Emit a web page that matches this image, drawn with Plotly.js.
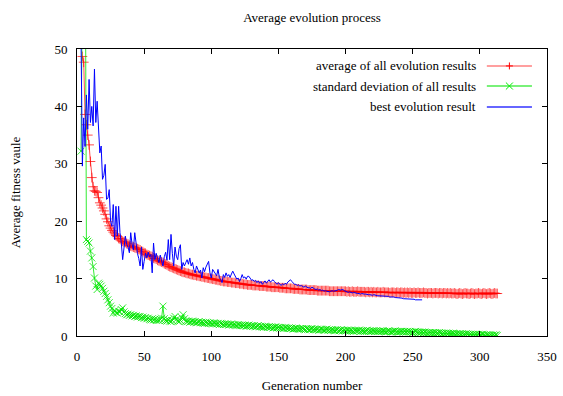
<!DOCTYPE html>
<html>
<head>
<meta charset="utf-8">
<script src="https://cdn.plot.ly/plotly-3.0.1.min.js"></script>
<style>html,body{margin:0;padding:0;background:#fff;}#chart{width:563px;height:396px;}</style>
</head>
<body>
<div id="chart"></div>
<script>
// ---- data ----
const chartTitle = 'Average evolution process';
const xTitle = 'Generation number';
const yTitle = 'Average fitness vaule';
const seriesNames = ['average of all evolution results', 'standard deviation of all results', 'best evolution result'];

const avgStartGen = 4;
const avgValues = [
  48.7, 47.7, 38.6, 36.8, 35.0, 33.3, 30.4, 27.6, 26.0, 25.3,
  25.2, 25.0, 24.1, 23.2, 22.8, 22.3, 21.8, 21.2, 20.4, 19.9,
  19.2, 18.8, 18.4, 18.1, 17.8, 17.5, 17.3, 17.0, 16.9, 16.7,
  16.5, 16.4, 16.3, 16.1, 16.0, 15.8, 15.7, 15.6, 15.5, 15.4,
  15.3, 15.2, 15.1, 15.0, 14.8, 14.7, 14.5, 14.4, 14.2, 14.1,
  14.0, 13.9, 13.8, 13.6, 13.5, 13.4, 13.2, 13.1, 13.0, 12.9,
  12.8, 12.6, 12.5, 12.4, 12.2, 12.1, 12.0, 11.9, 11.8, 11.7,
  11.6, 11.5, 11.4, 11.3, 11.2, 11.1, 11.1, 11.0, 10.9, 10.9,
  10.8, 10.7, 10.7, 10.6, 10.6, 10.5, 10.5, 10.4, 10.4, 10.3,
  10.3, 10.2, 10.2, 10.1, 10.1, 10.0, 10.0, 9.9, 9.9, 9.8,
  9.8, 9.7, 9.7, 9.6, 9.6, 9.5, 9.5, 9.5, 9.4, 9.4,
  9.4, 9.3, 9.3, 9.3, 9.2, 9.2, 9.2, 9.1, 9.1, 9.1,
  9.0, 9.0, 9.0, 8.9, 8.9, 8.9, 8.9, 8.8, 8.8, 8.8,
  8.8, 8.8, 8.7, 8.7, 8.7, 8.7, 8.7, 8.6, 8.6, 8.6,
  8.6, 8.5, 8.5, 8.5, 8.5, 8.5, 8.5, 8.4, 8.4, 8.4,
  8.4, 8.3, 8.3, 8.3, 8.3, 8.3, 8.3, 8.2, 8.2, 8.2,
  8.2, 8.2, 8.1, 8.1, 8.1, 8.1, 8.1, 8.1, 8.0, 8.0,
  8.0, 8.0, 8.0, 8.0, 8.0, 7.9, 7.9, 7.9, 7.9, 7.9,
  7.9, 7.9, 7.9, 7.9, 7.8, 7.8, 7.8, 7.8, 7.8, 7.8,
  7.8, 7.8, 7.8, 7.8, 7.8, 7.8, 7.8, 7.7, 7.8, 7.7,
  7.7, 7.8, 7.7, 7.7, 7.7, 7.8, 7.7, 7.7, 7.7, 7.7,
  7.7, 7.6, 7.7, 7.7, 7.6, 7.7, 7.6, 7.7, 7.6, 7.6,
  7.7, 7.6, 7.6, 7.6, 7.7, 7.6, 7.6, 7.6, 7.6, 7.5,
  7.6, 7.6, 7.6, 7.5, 7.6, 7.6, 7.5, 7.6, 7.6, 7.5,
  7.6, 7.5, 7.6, 7.5, 7.6, 7.5, 7.5, 7.6, 7.5, 7.5,
  7.6, 7.5, 7.5, 7.5, 7.6, 7.5, 7.5, 7.4, 7.5, 7.5,
  7.5, 7.4, 7.5, 7.5, 7.5, 7.4, 7.5, 7.5, 7.4, 7.5,
  7.5, 7.4, 7.5, 7.4, 7.5, 7.4, 7.4, 7.5, 7.4, 7.3,
  7.4, 7.5, 7.4, 7.3, 7.4, 7.5, 7.4, 7.4, 7.3, 7.4,
  7.5, 7.4, 7.3, 7.4, 7.4, 7.5, 7.4, 7.3, 7.4, 7.5,
  7.4, 7.3, 7.4, 7.5, 7.4, 7.3, 7.4, 7.5, 7.4, 7.4
];

const stdStartGen = 3;
const stdValues = [
  32.2, 85, 90, 80, 16.8, 16.5, 16.2, 14.8, 13.6, 12.1,
  10.1, 8.7, 8.1, 9.2, 9.0, 8.7, 8.3, 7.8, 7.4, 6.9,
  6.3, 5.8, 5.2, 4.8, 4.0, 4.4, 4.1, 4.0, 4.3, 4.2,
  4.6, 4.9, 4.2, 3.9, 3.7, 3.8, 3.6, 3.7, 3.5, 3.6,
  3.4, 3.5, 3.3, 3.4, 3.4, 3.2, 3.3, 3.1, 3.2, 3.0,
  3.1, 2.9, 2.8, 3.0, 2.8, 2.9, 2.7, 2.8, 2.7, 2.9,
  3.1, 5.2, 3.0, 2.7, 2.6, 2.8, 2.6, 2.5, 2.7, 3.1,
  3.4, 2.9, 2.6, 2.5, 2.7, 3.2, 3.7, 3.0, 2.6, 2.5,
  2.6, 2.4, 2.5, 2.6, 2.4, 2.5, 2.3, 2.4, 2.5, 2.3,
  2.4, 2.3, 2.2, 2.4, 2.3, 2.2, 2.3, 2.2, 2.1, 2.3,
  2.2, 2.1, 2.2, 2.0, 2.2, 2.1, 2.0, 2.1, 2.0, 2.1,
  1.9, 2.0, 2.1, 1.9, 2.0, 1.9, 1.8, 2.0, 1.9, 1.8,
  1.9, 1.8, 1.9, 1.7, 1.8, 1.9, 1.7, 1.8, 1.7, 1.8,
  1.6, 1.7, 1.8, 1.6, 1.7, 1.6, 1.5, 1.7, 1.6, 1.5,
  1.6, 1.5, 1.6, 1.4, 1.5, 1.6, 1.4, 1.5, 1.4, 1.5,
  1.4, 1.3, 1.5, 1.4, 1.3, 1.4, 1.3, 1.4, 1.2, 1.3,
  1.4, 1.3, 1.2, 1.3, 1.2, 1.3, 1.2, 1.1, 1.3, 1.2,
  1.1, 1.2, 1.3, 1.1, 1.2, 1.1, 1.2, 1.0, 1.1, 1.2,
  1.1, 1.0, 1.1, 1.2, 1.0, 1.1, 1.0, 1.1, 1.0, 0.9,
  1.0, 1.1, 0.9, 1.0, 1.1, 0.9, 1.0, 0.9, 1.0, 1.0,
  0.9, 1.0, 0.9, 0.8, 1.0, 0.9, 0.9, 1.0, 0.8, 0.9,
  0.9, 0.8, 0.9, 1.0, 0.8, 0.9, 0.8, 0.9, 0.9, 0.8,
  0.9, 0.8, 0.8, 0.9, 0.8, 0.9, 0.8, 0.7, 0.8, 0.9,
  0.8, 0.7, 0.8, 0.8, 0.9, 0.7, 0.8, 0.7, 0.8, 0.8,
  0.7, 0.8, 0.7, 0.8, 0.7, 0.8, 0.7, 0.6, 0.7, 0.8,
  0.7, 0.6, 0.7, 0.6, 0.7, 0.6, 0.7, 0.6, 0.5, 0.6,
  0.6, 0.5, 0.6, 0.5, 0.6, 0.5, 0.5, 0.6, 0.5, 0.4,
  0.5, 0.4, 0.5, 0.4, 0.5, 0.4, 0.4, 0.5, 0.4, 0.3,
  0.4, 0.3, 0.4, 0.3, 0.4, 0.3, 0.3, 0.4, 0.3, 0.2,
  0.3, 0.2, 0.3, 0.2, 0.3, 0.2, 0.3, 0.2, 0.2, 0.3,
  0.2, 0.1, 0.2, 0.2, 0.1, 0.2, 0.1, 0.2, 0.1, 0.2, 0.1
];

const bestStartGen = 3;
const bestValues = [
  52, 29.6, 38, 33, 42, 36, 44.7, 37.2, 40, 36.6,
  46.5, 37.2, 40.9, 36, 31.9, 33.1, 27.3, 28, 29.9, 23.8,
  24, 25.5, 20, 19.1, 22.9, 16.8, 22.6, 17.4, 22.6, 18,
  16.2, 13.3, 15, 17.4, 16, 15.5, 14.5, 18, 16, 15,
  18, 16, 14.4, 13.5, 12.2, 15.5, 11.6, 13, 14.4, 13.6,
  14.6, 13.8, 14.2, 11, 16.2, 13.3, 14.4, 13.5, 12.8, 14.1,
  13, 12.2, 13.8, 14.6, 13.2, 16.8, 13.3, 17.7, 14.4, 12.2,
  15.5, 13.9, 13.3, 15.2, 15.9, 11.6, 12.8, 12.2, 12.8, 13.3,
  12.5, 13.6, 12.2, 12.8, 11.6, 11, 12.2, 11.5, 11, 11.5,
  10.1, 11.9, 11.2, 12, 12.5, 13, 11, 10.1, 11.6, 11.3,
  11, 10.5, 11.6, 10.2, 9.8, 9.3, 10.7, 10.2, 11, 10.4,
  10.7, 10.2, 10.8, 11.3, 10.8, 10.4, 9.9, 10.1, 9.5, 10,
  10.7, 10.1, 10.3, 9.9, 10.4, 10.4, 10, 9.7, 9.8, 9.5,
  9.7, 9.3, 9.6, 9.2, 9.5, 9, 9.3, 9.6, 9.2, 9.5,
  9.8, 9.4, 9.6, 9.8, 9.5, 9.2, 9, 9.3, 9, 8.8,
  9.1, 8.9, 9.2, 9, 9.4, 9.6, 9.8, 9.5, 9.3, 9,
  9, 8.8, 8.9, 8.7, 8.8, 8.6, 8.5, 8.7, 8.5, 8.4,
  8.4, 8.3, 8.5, 8.3, 8.2, 8.1, 8.2, 8, 8.1, 7.9,
  8, 7.8, 7.9, 7.8, 7.7, 7.7, 7.8, 7.9, 7.8, 7.8,
  7.9, 8, 8.1, 8, 8.1, 8.1, 7.9, 7.8, 7.7, 7.6,
  7.7, 7.6, 7.5, 7.6, 7.5, 7.5, 7.4, 7.4, 7.3, 7.4,
  7.3, 7.3, 7.3, 7.2, 7.2, 7.2, 7.1, 7.1, 7.2, 7.1,
  7.1, 7, 7, 7, 7, 6.9, 6.9, 6.9, 6.9, 6.9,
  6.8, 6.8, 6.9, 6.8, 6.7, 6.7, 6.7, 6.6, 6.6, 6.6,
  6.5, 6.5, 6.5, 6.5, 6.4, 6.4, 6.4, 6.4, 6.4, 6.3,
  6.3, 6.3, 6.3, 6.3, 6.3
];

const xTickVals = [0, 50, 100, 150, 200, 250, 300, 350];
const yTickVals = [0, 10, 20, 30, 40, 50];

// ---- build ----
function gens(start, arr) { return arr.map((_, i) => start + i); }

const FONT = 'Liberation Serif';
const RED = '#ff0000', GREEN = '#00ee00', BLUE = '#0000ff';
const RED_A = 'rgba(255,0,0,0.7)', GREEN_A = 'rgba(0,230,0,0.8)';

const traces = [
  { x: gens(avgStartGen, avgValues), y: avgValues, name: seriesNames[0], mode: 'lines+markers',
    line: { color: RED_A, width: 1 }, marker: { symbol: 'cross-thin-open', size: 7, line: { color: RED_A, width: 1 }, color: RED_A } },
  { x: gens(stdStartGen, stdValues), y: stdValues, name: seriesNames[1], mode: 'lines+markers',
    line: { color: GREEN_A, width: 1 }, marker: { symbol: 'x-thin-open', size: 7, line: { color: GREEN_A, width: 1 }, color: GREEN_A } },
  { x: gens(bestStartGen, bestValues), y: bestValues, name: seriesNames[2], mode: 'lines',
    line: { color: BLUE, width: 1 } }
];

// custom legend (text left of sample, like gnuplot)
const legY = [0.941, 0.871, 0.798];
const legTextX = 0.853, legX0 = 0.872, legX1 = 0.968, legXM = 0.92;
const colors = ['rgba(255,0,0,0.5)', 'rgba(0,230,0,0.7)', 'rgba(0,0,255,0.8)'];
const annotations = [], shapes = [];
const dx = 3.5 / 470, dy = 3.5 / 287;
seriesNames.forEach((n, i) => {
  annotations.push({ xref: 'paper', yref: 'paper', x: legTextX, y: legY[i], xanchor: 'right', yanchor: 'middle',
    text: n, showarrow: false, font: { family: FONT, size: 13, color: '#000' } });
  shapes.push({ type: 'line', xref: 'paper', yref: 'paper', x0: legX0, x1: legX1, y0: legY[i], y1: legY[i],
    line: { color: colors[i], width: 1.5 } });
});
shapes.push({ type: 'path', xref: 'paper', yref: 'paper',
  path: `M ${legXM - dx},${legY[0]} L ${legXM + dx},${legY[0]} M ${legXM},${legY[0] - dy} L ${legXM},${legY[0] + dy}`,
  line: { color: RED, width: 1 } });
shapes.push({ type: 'path', xref: 'paper', yref: 'paper',
  path: `M ${legXM - dx},${legY[1] - dy} L ${legXM + dx},${legY[1] + dy} M ${legXM - dx},${legY[1] + dy} L ${legXM + dx},${legY[1] - dy}`,
  line: { color: GREEN, width: 1 } });

const axisCommon = {
  showgrid: false, zeroline: false, showline: true, linecolor: '#000', linewidth: 1,
  mirror: 'allticks', ticks: 'inside', ticklen: 5, tickcolor: '#000', tickwidth: 1,
  tickfont: { family: FONT, size: 13, color: '#000' }
};

const layout = {
  width: 563, height: 396,
  margin: { l: 77, r: 16, t: 49, b: 60 },
  paper_bgcolor: '#fff', plot_bgcolor: '#fff',
  showlegend: false,
  font: { family: FONT, size: 13, color: '#000' },
  title: { text: chartTitle, font: { family: FONT, size: 13, color: '#000' },
    x: 0.5, xref: 'paper', xanchor: 'center', y: 0.957, yref: 'container', yanchor: 'middle' },
  xaxis: Object.assign({}, axisCommon, {
    range: [0, 350], tickvals: xTickVals, ticklabelstandoff: 8,
    title: { text: xTitle, font: { family: FONT, size: 13, color: '#000' }, standoff: 18 }
  }),
  yaxis: Object.assign({}, axisCommon, {
    range: [0, 50], tickvals: yTickVals, ticklabelstandoff: 6,
    title: { text: yTitle, font: { family: FONT, size: 13, color: '#000' }, standoff: 30 }
  }),
  annotations: annotations,
  shapes: shapes
};

Plotly.newPlot('chart', traces, layout, { staticPlot: true, displayModeBar: false });
</script>
</body>
</html>
